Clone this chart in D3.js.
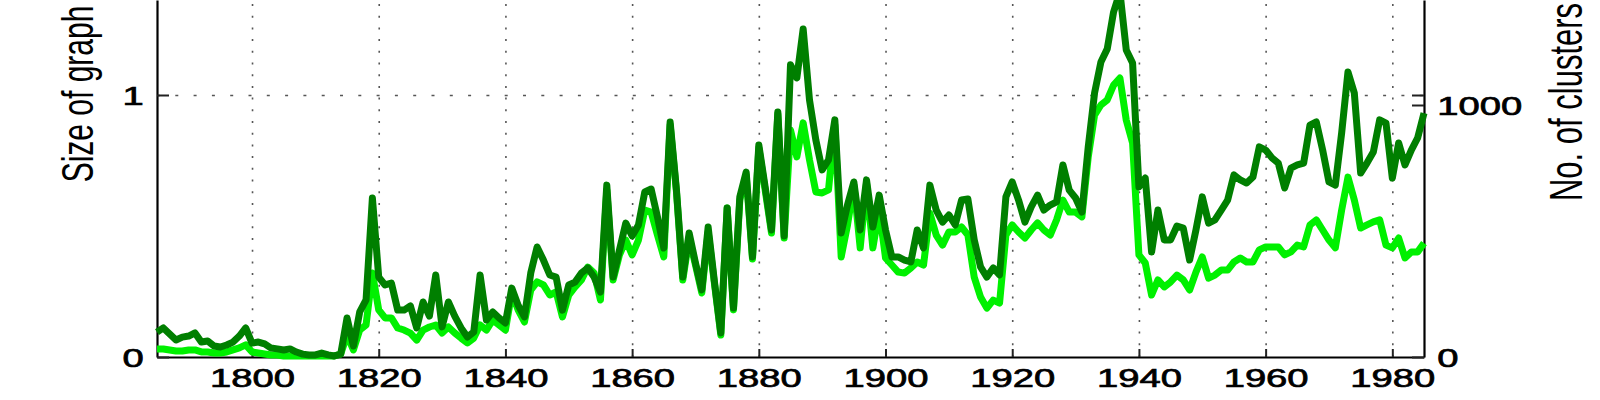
<!DOCTYPE html>
<html>
<head>
<meta charset="utf-8">
<script src="https://cdn.jsdelivr.net/npm/d3@7"></script>
<style>
body{margin:0;background:#fff;}
svg text{font-family:"Liberation Sans",Arial,Helvetica,sans-serif;fill:#000;}
</style>
</head>
<body>
<div id="chart"></div>
<script>
// yearly values, 1785..1985
var years = d3.range(1785, 1986);
var xTicks = [1800, 1820, 1840, 1860, 1880, 1900, 1920, 1940, 1960, 1980];
var leftTicks = [0, 1];
var rightTicks = [0, 1000];

// size of graph (left axis)
var graphSize = [
 0.095,0.111,0.088,0.065,0.076,0.080,0.092,0.057,0.061,0.042,
 0.038,0.046,0.057,0.080,0.111,0.053,0.057,0.050,0.034,0.031,
 0.027,0.031,0.019,0.011,0.008,0.008,0.015,0.008,0.004,0.011,
 0.149,0.042,0.172,0.218,0.607,0.305,0.275,0.282,0.179,0.179,
 0.195,0.111,0.210,0.156,0.313,0.115,0.210,0.156,0.111,0.076,
 0.095,0.313,0.141,0.172,0.149,0.130,0.263,0.198,0.153,0.321,
 0.420,0.370,0.313,0.305,0.179,0.275,0.286,0.321,0.340,0.305,
 0.248,0.656,0.305,0.408,0.511,0.462,0.504,0.630,0.641,0.534,
 0.416,0.897,0.637,0.305,0.473,0.359,0.256,0.496,0.286,0.092,
 0.569,0.187,0.611,0.706,0.382,0.809,0.649,0.485,0.935,0.462,
 1.115,1.065,1.252,0.981,0.828,0.714,0.752,0.905,0.473,0.580,
 0.668,0.485,0.676,0.496,0.618,0.485,0.382,0.382,0.370,0.363,
 0.485,0.416,0.656,0.561,0.515,0.542,0.504,0.599,0.603,0.447,
 0.344,0.305,0.340,0.313,0.611,0.668,0.599,0.515,0.573,0.618,
 0.561,0.580,0.592,0.733,0.637,0.607,0.553,0.802,1.008,1.126,
 1.176,1.317,1.393,1.172,1.122,0.649,0.683,0.401,0.561,0.447,
 0.447,0.500,0.492,0.370,0.485,0.611,0.511,0.523,0.561,0.599,
 0.695,0.676,0.664,0.687,0.802,0.790,0.760,0.740,0.645,0.721,
 0.733,0.740,0.885,0.897,0.790,0.668,0.656,0.855,1.088,1.008,
 0.702,0.740,0.782,0.905,0.893,0.683,0.817,0.733,0.790,0.836,
 0.931
];
// no. of clusters (right axis)
var clusters = [
 32,32,28,24,24,28,28,20,20,16,
 16,20,28,36,48,20,16,12,8,8,
 4,4,4,4,4,4,4,4,4,12,
 87,28,107,127,333,187,155,155,115,107,
 95,67,107,119,127,95,119,95,75,56,
 75,127,107,147,127,107,254,187,139,266,
 298,286,246,258,159,246,278,306,357,333,
 226,663,306,405,464,405,464,583,575,484,
 397,921,655,306,472,365,254,496,290,87,
 591,187,623,722,389,829,663,492,964,472,
 901,794,929,782,655,651,663,921,397,524,
 683,433,690,433,583,393,365,337,333,353,
 377,365,571,484,444,496,496,516,484,317,
 238,194,226,214,484,524,496,472,504,532,
 504,484,544,623,575,575,556,794,960,1000,
 1020,1079,1107,940,849,405,373,246,306,278,
 298,325,306,266,337,397,313,325,345,345,
 377,393,377,377,425,437,437,437,405,417,
 444,437,524,544,504,464,433,583,714,623,
 512,524,536,544,444,433,472,393,417,417,
 452
];

var W = 1600, H = 400;
var left = 157, right = 1424, bottom = 357;
var sx = 1.47; // text in the original is stretched sideways
var darkColor = "#007f00";
var brightColor = "#00f000";

var svg = d3.select("#chart").append("svg")
	.attr("width", W).attr("height", H);

var x = d3.scaleLinear().domain([1785, 1985]).range([left, right]);
// 0 -> 357, 1 -> 95 ; top edge of the picture is y=0
var yL = d3.scaleLinear().domain([0, bottom/262]).range([bottom, 0]);
// 0 -> 357, 1000 -> 105
var yR = d3.scaleLinear().domain([0, bottom/0.252]).range([bottom, 0]);

// grid
svg.append("g")
	.attr("transform", "translate(0," + bottom + ")")
	.call(d3.axisBottom(x).tickValues(xTicks).tickSizeInner(-bottom).tickSizeOuter(0).tickFormat(""))
	.call(function(g){
		g.select(".domain").remove();
		g.selectAll("line").attr("stroke", "#555").attr("stroke-width", 1.6)
			.attr("stroke-dasharray", "2,9.7");
	});
svg.append("g")
	.attr("transform", "translate(" + left + ",0)")
	.call(d3.axisLeft(yL).tickValues([1]).tickSizeInner(-(right-left)).tickSizeOuter(0).tickFormat(""))
	.call(function(g){
		g.select(".domain").remove();
		g.selectAll("line").attr("stroke", "#555").attr("stroke-width", 1.6)
			.attr("stroke-dasharray", "3,15.3");
	});

// axes
var xAxis = svg.append("g")
	.attr("transform", "translate(0," + bottom + ")")
	.call(d3.axisBottom(x).tickValues(xTicks).tickSizeInner(-8).tickSizeOuter(0).tickFormat(d3.format("d")));
xAxis.selectAll("text").attr("y", 30).attr("dy", null);

var lAxis = svg.append("g")
	.attr("transform", "translate(" + left + ",0)")
	.call(d3.axisLeft(yL).tickValues(leftTicks).tickSizeInner(-12).tickSizeOuter(0).tickFormat(d3.format("d")));
lAxis.selectAll("text").attr("x", -9).attr("dy", "0.36em");

var rAxis = svg.append("g")
	.attr("transform", "translate(" + right + ",0)")
	.call(d3.axisRight(yR).tickValues(rightTicks).tickSizeInner(-12).tickSizeOuter(0).tickFormat(d3.format("d")));
rAxis.selectAll("text").attr("x", 9).attr("dy", "0.36em");

svg.append("g")
	.attr("transform", "translate(" + right + ",0)")
	.call(d3.axisRight(yL).tickValues([1]).tickSizeInner(-12).tickSizeOuter(0).tickFormat(""))
	.select(".domain").remove();

svg.selectAll(".domain").attr("stroke", "#000").attr("stroke-width", 2.2);
svg.selectAll(".tick line").filter(function(){ return !this.getAttribute("stroke-dasharray"); })
	.attr("stroke", "#222").attr("stroke-width", 2);
svg.selectAll(".tick text")
	.attr("font-size", 26)
	.attr("stroke", "#000")
	.attr("stroke-width", 0.7)
	.attr("transform", "scale(" + sx + ",1)");

// axis titles
svg.append("text")
	.attr("transform", "translate(93,94) scale(" + sx + ",1) rotate(-90)")
	.attr("text-anchor", "middle")
	.attr("font-size", 30)
	.text("Size of graph");
svg.append("text")
	.attr("transform", "translate(1582,102) scale(" + sx + ",1) rotate(-90)")
	.attr("text-anchor", "middle")
	.attr("font-size", 31)
	.text("No. of clusters");

// lines
var brightLine = d3.line()
	.x(function(d, i){ return x(years[i]); })
	.y(function(d){ return yR(d); });
var darkLine = d3.line()
	.x(function(d, i){ return x(years[i]); })
	.y(function(d){ return yL(d); });

svg.append("path")
	.datum(clusters)
	.attr("d", brightLine)
	.attr("fill", "none")
	.attr("stroke", brightColor)
	.attr("stroke-width", 7)
	.attr("stroke-linejoin", "round");

svg.append("path")
	.datum(graphSize)
	.attr("d", darkLine)
	.attr("fill", "none")
	.attr("stroke", darkColor)
	.attr("stroke-width", 7)
	.attr("stroke-linejoin", "round");
</script>
</body>
</html>
